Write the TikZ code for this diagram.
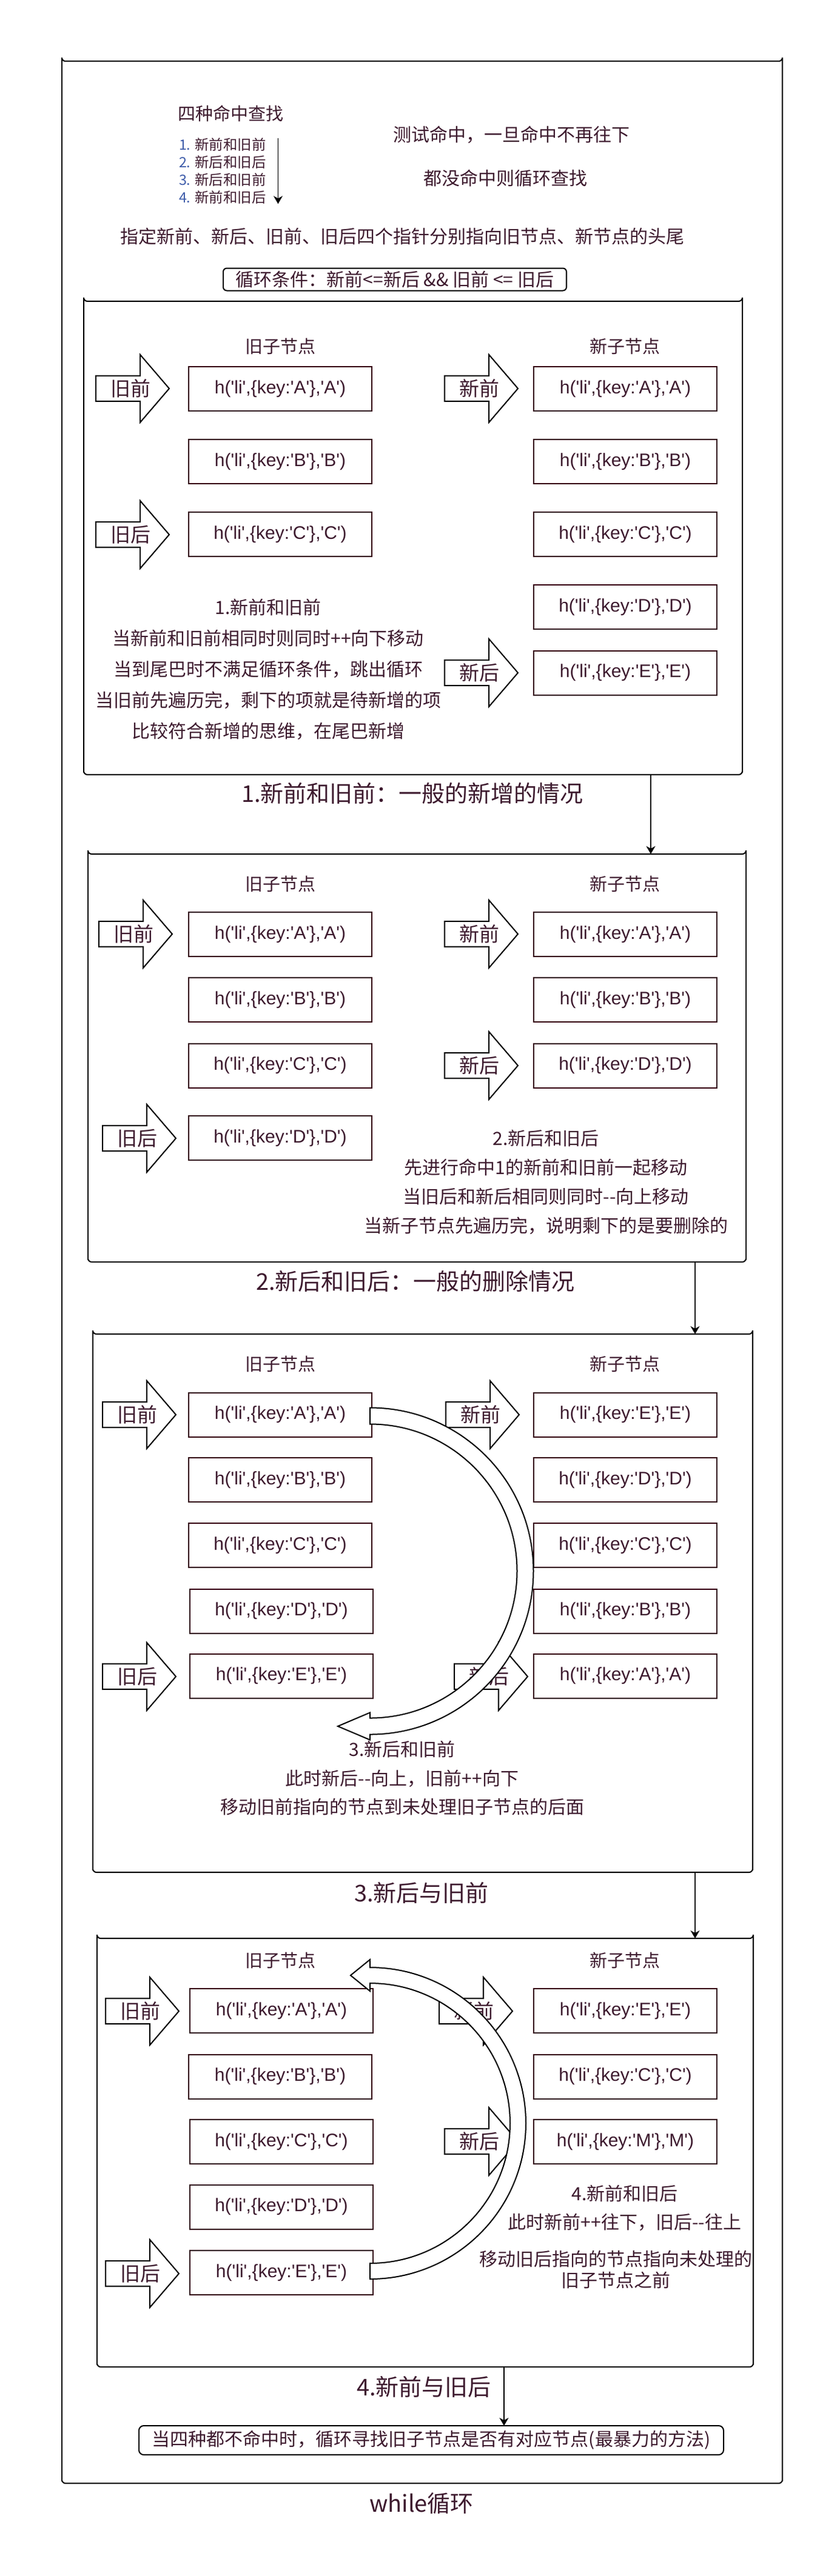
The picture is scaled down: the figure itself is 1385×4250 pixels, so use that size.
\documentclass[tikz,border=0pt]{standalone}
\usepackage{fontspec}
\setmainfont{Liberation Sans}
\newfontfamily\codefont{Liberation Sans}[Ligatures=TeXOff]
\newfontfamily\cjk{Noto Sans CJK SC}[Ligatures=TeXOff]
\usepackage{tikz}
\usetikzlibrary{shapes.misc,arrows.meta,calc}
\definecolor{inkc}{HTML}{3D1A2E}
\definecolor{boxc}{HTML}{33000F}
\definecolor{numc}{HTML}{3F5DAA}

\begin{document}
\begin{tikzpicture}[x=0.5pt,y=-0.5pt,
  every node/.style={inner sep=0pt,outer sep=0pt,text=inkc},
  framebox/.style={draw=black,line width=1pt,chamfered rectangle,rounded corners=3pt,
    chamfered rectangle xsep=12pt,chamfered rectangle ysep=12pt},
  codebox/.style={draw=boxc,line width=1pt,minimum width=151pt,minimum height=36.5pt,
    font=\codefont\fontsize{15}{18}\selectfont},
  colhead/.style={font=\cjk\fontsize{14.5}{17}\selectfont},
  notetext/.style={font=\cjk\fontsize{15}{25}\selectfont,align=center},
  captext/.style={font=\cjk\fontsize{19}{23}\selectfont},
  flowline/.style={draw=black,line width=0.75pt,-{Stealth[length=6.5pt,width=7.5pt,inset=2pt]}},
  bendarrow/.style={draw=black,line width=1pt,fill=white},
  pics/ptr/.style={code={
    \draw[line width=1pt,fill=white] (0,-21) -- (73,-21) -- (73,-56) -- (121,0) -- (73,56) -- (73,21) -- (0,21) -- cycle;
    \node[font=\cjk\fontsize{16.5}{20}\selectfont] (-lbl) at (57,0) {#1};}}]
\useasboundingbox (0,0) rectangle (1385,4250);

\node[framebox,chamfered rectangle corners=north west,minimum width=594pt,minimum height=1998pt,
  chamfered rectangle xsep=14pt,chamfered rectangle ysep=15pt] (loop) at (696,2099) {};
\node[captext] (wl) at (695,4130) {while循环};

\node[colhead] (four) at (380,187) {四种命中查找};
\node[anchor=west,align=left,font=\cjk\fontsize{11.7}{14.5}\selectfont] (order) at (295,282)
  {\textcolor{numc}{1.} 新前和旧前\\\textcolor{numc}{2.} 新后和旧后\\\textcolor{numc}{3.} 新后和旧前\\\textcolor{numc}{4.} 新前和旧后};
\draw[flowline] ([xshift=10pt]order.north east) -- ([xshift=10pt]order.south east);
\node[notetext] (hit) at (843,222) {测试命中，一旦命中不再往下};
\node[notetext] (miss) at (833,294) {都没命中则循环查找};
\node[notetext] (ptrs) at (663,390) {指定新前、新后、旧前、旧后四个指针分别指向旧节点、新节点的头尾};
\node[draw=black,line width=1pt,rounded corners=3pt,minimum width=283pt,minimum height=18.5pt,
  font=\cjk\fontsize{15}{18}\selectfont] (cond) at (651,461) {循环条件：新前<=新后 \&\& 旧前 <= 旧后};

\node[framebox,chamfered rectangle corners=north west,minimum width=543pt,minimum height=390.5pt] (sec1) at (681,887.5) {};
\node[colhead] (old1) at (462,571) {旧子节点};
\node[colhead] (new1) at (1030,571) {新子节点};
\node[codebox] (o1a) at (462,641.5) {h('li',\{key:'A'\},'A')};
\node[codebox] (o1b) at (462,761.5) {h('li',\{key:'B'\},'B')};
\node[codebox] (o1c) at (462,881.5) {h('li',\{key:'C'\},'C')};
\node[codebox] (n1a) at (1031,641.5) {h('li',\{key:'A'\},'A')};
\node[codebox] (n1b) at (1031,761.5) {h('li',\{key:'B'\},'B')};
\node[codebox] (n1c) at (1031,881.5) {h('li',\{key:'C'\},'C')};
\node[codebox] (n1d) at (1031,1001.5) {h('li',\{key:'D'\},'D')};
\node[codebox] (n1e) at (1031,1110) {h('li',\{key:'E'\},'E')};
\pic (p1os) at (158,641) {ptr=旧前};
\pic (p1oe) at (158,882) {ptr=旧后};
\pic (p1ns) at (733,641) {ptr=新前};
\pic (p1ne) at (733,1110) {ptr=新后};
\node[notetext,font=\cjk\fontsize{15}{25.5}\selectfont] (d1) at (442,1104)
  {1.新前和旧前\\当新前和旧前相同时则同时++向下移动\\当到尾巴时不满足循环条件，跳出循环\\当旧前先遍历完，剩下的项就是待新增的项\\比较符合新增的思维，在尾巴新增};
\node[captext] (c1) at (680,1309) {1.新前和旧前：一般的新增的情况};

\node[framebox,chamfered rectangle corners=north west,minimum width=542.5pt,minimum height=336.5pt] (sec2) at (687.5,1745.5) {};
\node[colhead] (old2) at (462,1458) {旧子节点};
\node[colhead] (new2) at (1030,1458) {新子节点};
\node[codebox] (o2a) at (462,1541.5) {h('li',\{key:'A'\},'A')};
\node[codebox] (o2b) at (462,1649.5) {h('li',\{key:'B'\},'B')};
\node[codebox] (o2c) at (462,1758) {h('li',\{key:'C'\},'C')};
\node[codebox] (o2d) at (462,1877.5) {h('li',\{key:'D'\},'D')};
\node[codebox] (n2a) at (1031,1541.5) {h('li',\{key:'A'\},'A')};
\node[codebox] (n2b) at (1031,1649.5) {h('li',\{key:'B'\},'B')};
\node[codebox] (n2d) at (1031,1758) {h('li',\{key:'D'\},'D')};
\pic (p2os) at (163,1541) {ptr=旧前};
\pic (p2ns) at (733,1541) {ptr=新前};
\pic (p2ne) at (733,1758) {ptr=新后};
\pic (p2oe) at (169,1878) {ptr=旧后};
\node[notetext,font=\cjk\fontsize{15}{24}\selectfont] (d2) at (900,1950)
  {2.新后和旧后\\先进行命中1的新前和旧前一起移动\\当旧后和新后相同则同时--向上移动\\当新子节点先遍历完，说明剩下的是要删除的};
\node[captext] (c2) at (685,2114) {2.新后和旧后：一般的删除情况};

\node[framebox,chamfered rectangle corners=south west,minimum width=544pt,minimum height=444pt] (sec3) at (697,2645) {};
\node[colhead] (old3) at (462,2250) {旧子节点};
\node[colhead] (new3) at (1030,2250) {新子节点};
\node[codebox] (o3a) at (462,2334) {h('li',\{key:'A'\},'A')};
\node[codebox] (o3b) at (462,2441.5) {h('li',\{key:'B'\},'B')};
\node[codebox] (o3c) at (462,2549.5) {h('li',\{key:'C'\},'C')};
\node[codebox] (o3d) at (464,2658) {h('li',\{key:'D'\},'D')};
\node[codebox] (o3e) at (464,2765) {h('li',\{key:'E'\},'E')};
\node[codebox] (n3e) at (1031,2334) {h('li',\{key:'E'\},'E')};
\node[codebox] (n3d) at (1031,2441.5) {h('li',\{key:'D'\},'D')};
\node[codebox] (n3c) at (1031,2549.5) {h('li',\{key:'C'\},'C')};
\node[codebox] (n3b) at (1031,2658) {h('li',\{key:'B'\},'B')};
\node[codebox] (n3a) at (1031,2765) {h('li',\{key:'A'\},'A')};
\pic (p3os) at (169,2334) {ptr=旧前};
\pic (p3ns) at (735,2334) {ptr=新前};
\pic (p3oe) at (169,2766) {ptr=旧后};
\pic (p3ne) at (749,2766) {ptr=新后};
\draw[bendarrow] ($(o3a.east)+(-3,-11.5)$) arc[start angle=-90,end angle=90,radius=269.5] -- ++(0,9) -- ++(-53,-22.5)
  -- ++(53,-22.5) -- ++(0,9) arc[start angle=90,end angle=-90,radius=242.5] -- cycle;
\node[notetext,font=\cjk\fontsize{15}{23.75}\selectfont] (d3) at (663,2934)
  {3.新后和旧前\\此时新后--向上，旧前++向下\\移动旧前指向的节点到未处理旧子节点的后面};
\node[captext] (c3) at (695,3123) {3.新后与旧前};

\node[framebox,chamfered rectangle corners=south west,minimum width=541pt,minimum height=353.5pt] (sec4) at (701,3551.5) {};
\node[colhead] (old4) at (462,3234) {旧子节点};
\node[colhead] (new4) at (1030,3234) {新子节点};
\node[codebox] (o4a) at (464,3317.5) {h('li',\{key:'A'\},'A')};
\node[codebox] (o4b) at (462,3426) {h('li',\{key:'B'\},'B')};
\node[codebox] (o4c) at (464,3533.5) {h('li',\{key:'C'\},'C')};
\node[codebox] (o4d) at (464,3641) {h('li',\{key:'D'\},'D')};
\node[codebox] (o4e) at (464,3749.5) {h('li',\{key:'E'\},'E')};
\node[codebox] (n4e) at (1031,3317.5) {h('li',\{key:'E'\},'E')};
\node[codebox] (n4c) at (1031,3426) {h('li',\{key:'C'\},'C')};
\node[codebox] (n4m) at (1031,3533.5) {h('li',\{key:'M'\},'M')};
\pic (p4os) at (174,3318) {ptr=旧前};
\pic (p4ns) at (724,3318) {ptr=新前};
\pic (p4ne) at (733,3533) {ptr=新后};
\pic (p4oe) at (174,3751) {ptr=旧后};
\draw[bendarrow] ($(o4e.east)+(-5,10.5)$) arc[start angle=90,end angle=-90,radius=257] -- ++(0,-13) -- ++(-32,26)
  -- ++(32,26) -- ++(0,-13) arc[start angle=-90,end angle=90,radius=231] -- cycle;
\node[notetext,font=\cjk\fontsize{15}{23.5}\selectfont] (d4) at (1030,3642.5) {4.新前和旧后\\此时新前++往下，旧后--往上};
\node[notetext,font=\cjk\fontsize{15}{17.5}\selectfont] (d4b) at (1015,3744.5) {移动旧后指向的节点指向未处理的\\旧子节点之前};
\node[captext] (c4) at (699,3938) {4.新前与旧后};

\node[draw=black,line width=1pt,rounded corners=4pt,minimum width=482pt,minimum height=24pt,
  font=\cjk\fontsize{15}{18}\selectfont] (brute) at (711,4026) {当四种都不命中时，循环寻找旧子节点是否有对应节点(最暴力的方法)};

\coordinate (ja) at (1073,0);
\coordinate (jb) at (1146,0);
\coordinate (jc) at (831,0);
\draw[flowline] (sec1.south -| ja) -- (sec2.north -| ja);
\draw[flowline] (sec2.south -| jb) -- (sec3.north -| jb);
\draw[flowline] (sec3.south -| jb) -- (sec4.north -| jb);
\draw[flowline] (sec4.south -| jc) -- (brute.north -| jc);
\end{tikzpicture}
\end{document}
